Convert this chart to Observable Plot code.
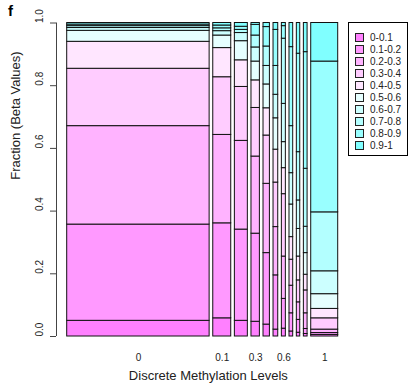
<!DOCTYPE html>
<html><head><meta charset="utf-8">
<script src="https://cdn.jsdelivr.net/npm/d3@7"></script>
<script src="https://cdn.jsdelivr.net/npm/@observablehq/plot@0.6"></script>
<style>
body{margin:0;background:#fff;font-family:"Liberation Sans",Arial,sans-serif}
#wrap{position:relative;width:411px;height:384px;overflow:hidden}
#panel{position:absolute;left:8px;top:2px;font-weight:bold;font-size:15px}
#legend{position:absolute;left:348px;top:22px;width:60px;height:134px;border:1px solid #000;box-sizing:border-box;background:#fff}
.row{position:absolute;left:6px;height:12px;display:flex;align-items:center;font-size:10px;color:#222}
.sw{width:7px;height:7px;border:1px solid #222;margin-right:6px}
</style></head>
<body><div id="wrap"><div id="panel">f</div><div id="legend"></div></div>
<script>
const levels = ["0","0.1","0.2","0.3","0.4","0.5","0.6","0.7","0.8","0.9","1"];
const levelShare = [0.607, 0.0766, 0.0553, 0.0358, 0.0272, 0.0200, 0.0170, 0.0158, 0.0145, 0.0158, 0.115];
const bins = ["0-0.1","0.1-0.2","0.2-0.3","0.3-0.4","0.4-0.5","0.5-0.6","0.6-0.7","0.7-0.8","0.8-0.9","0.9-1"];
const binColors = ["#FF80FF","#FF99FF","#FFB3FF","#FFCCFF","#FFE6FF","#E6FFFF","#CCFFFF","#B3FFFF","#99FFFF","#80FFFF"];
// cumulative fraction boundaries (bottom to top) for each methylation level
const cum_0   = [0.050, 0.357, 0.671, 0.854, 0.940, 0.975, 0.984, 0.990, 0.995];
const cum_0_1 = [0.058, 0.361, 0.643, 0.827, 0.920, 0.960, 0.974, 0.983, 0.992];
const cum_0_2 = [0.050, 0.341, 0.624, 0.796, 0.881, 0.942, 0.968, 0.978, 0.988];
const cum_0_3 = [0.047, 0.328, 0.574, 0.729, 0.817, 0.877, 0.922, 0.960, 0.994];
const cum_0_4 = [0.038, 0.266, 0.487, 0.641, 0.728, 0.804, 0.863, 0.925, 0.987];
const cum_0_5 = [0.022, 0.195, 0.349, 0.491, 0.596, 0.696, 0.771, 0.863, 0.978];
const cum_0_6 = [0.025, 0.120, 0.255, 0.454, 0.537, 0.620, 0.742, 0.950, 0.990];
const cum_0_7 = [0.016, 0.074, 0.162, 0.245, 0.317, 0.421, 0.521, 0.671, 0.923];
const cum_0_8 = [0.012, 0.053, 0.109, 0.179, 0.255, 0.343, 0.434, 0.588, 0.902];
const cum_0_9 = [0.008, 0.024, 0.074, 0.147, 0.197, 0.266, 0.350, 0.535, 0.907];
const cum_1   = [0.005, 0.011, 0.022, 0.058, 0.088, 0.135, 0.208, 0.396, 0.877];
const yTicks = [0, 0.2, 0.4, 0.6, 0.8, 1.0];
const xTickLabels = ["0","0.1","0.3","0.6","1"];

const cumByLevel = [cum_0, cum_0_1, cum_0_2, cum_0_3, cum_0_4, cum_0_5, cum_0_6, cum_0_7, cum_0_8, cum_0_9, cum_1];
const gap = 0.0155;
let start = 0;
const rects = [];
const barCenters = {};
levels.forEach((lev, i) => {
  const x1 = start, x2 = start + levelShare[i];
  barCenters[lev] = (x1 + x2) / 2;
  const cum = [0, ...cumByLevel[i], 1];
  for (let k = 0; k < bins.length; k++) {
    rects.push({level: lev, bin: bins[k], x1, x2, y1: cum[k], y2: cum[k + 1]});
  }
  start = x2 + gap;
});
const xMax = start - gap;
const xMin = -0.0456;

const plot = Plot.plot({
  width: 411, height: 384,
  marginLeft: 56, marginRight: 73.3, marginTop: 22.5, marginBottom: 48,
  x: {domain: [xMin, xMax], axis: null},
  y: {domain: [0, 1]},
  color: {domain: bins, range: binColors},
  style: {fontFamily: "Liberation Sans, Arial, sans-serif", background: "white", color: "#222"},
  marks: [
    Plot.rect(rects, {x1: "x1", x2: "x2", y1: "y1", y2: "y2", fill: "bin", stroke: "#111", strokeWidth: 1}),
    Plot.ruleX([xMin], {y1: 0, y2: 1, stroke: "#444"}),
    Plot.axisY({ticks: yTicks, tickSize: 6, tickFormat: () => "", label: null, stroke: "#444"}),
    Plot.text(yTicks, {y: d => d, text: d => d.toFixed(1), frameAnchor: "left", dx: -17, rotate: -90, fontSize: 10, fill: "#222"}),
    Plot.text([0.5], {y: d => d, text: () => "Fraction (Beta Values)", frameAnchor: "left", dx: -41, rotate: -90, fontSize: 13, fill: "#222"}),
    Plot.text(xTickLabels, {x: d => barCenters[d], text: d => d, frameAnchor: "bottom", dy: 24, fontSize: 10, fill: "#222"}),
    Plot.text(["Discrete Methylation Levels"], {text: d => d, frameAnchor: "bottom", dy: 43, dx: 11, fontSize: 13, fill: "#222"})
  ]
});
document.getElementById("wrap").prepend(plot);

const legend = document.getElementById("legend");
bins.forEach((b, i) => {
  const row = document.createElement("div");
  row.className = "row";
  row.style.top = (8 + 12 * i) + "px";
  const sw = document.createElement("span");
  sw.className = "sw";
  sw.style.background = binColors[i];
  const t = document.createElement("span");
  t.textContent = b;
  row.append(sw, t);
  legend.append(row);
});
</script></body></html>
